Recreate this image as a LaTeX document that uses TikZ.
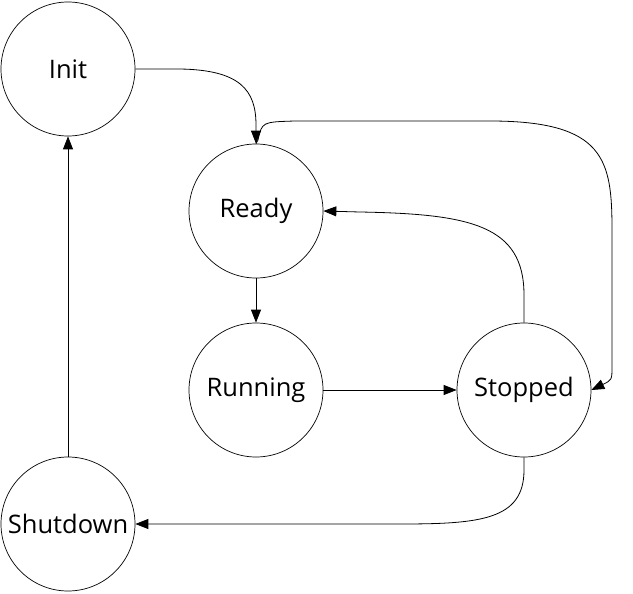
\documentclass[tikz,border=0pt]{standalone}
\usepackage{fontspec}
\setmainfont{Open Sans}
\usetikzlibrary{arrows.meta}
\begin{document}
\begin{tikzpicture}[x=1pt,y=-1pt,
  state/.style={draw, circle, minimum size=134pt, inner sep=0pt, line width=0.7pt, font=\fontsize{25.5}{30}\selectfont},
  edge/.style={line width=0.8pt, -{Triangle[length=13pt,width=10pt]}}]
\useasboundingbox (0,0) rectangle (633,594);
\node[state] (init) at (68,69) {Init};
\node[state] (ready) at (256,211) {Ready};
\node[state] (running) at (256,390) {Running};
\node[state] (stopped) at (524,390) {Stopped};
\node[state] (shutdown) at (68,524) {Shutdown};
\draw[edge] (init.east) -- (180,69) .. controls (240,70) and (256,90) .. (256,125) -- (ready.north);
\draw[edge] (ready.north) -- (258,140) .. controls (262,122) .. (295,121) -- (490,121) .. controls (605,121) and (612,160) .. (612,230) -- (612,366) .. controls (612,380) .. (stopped.east);
\draw[edge] (stopped.north) -- (524,295) .. controls (524,225) and (470,214) .. (360,212) -- (ready.east);
\draw[edge] (ready.south) -- (running.north);
\draw[edge] (running.east) -- (stopped.west);
\draw[edge] (stopped.south) -- (524,470) .. controls (524,520) and (480,524) .. (400,524) -- (shutdown.east);
\draw[edge] (shutdown.north) -- (init.south);
\end{tikzpicture}
\end{document}
